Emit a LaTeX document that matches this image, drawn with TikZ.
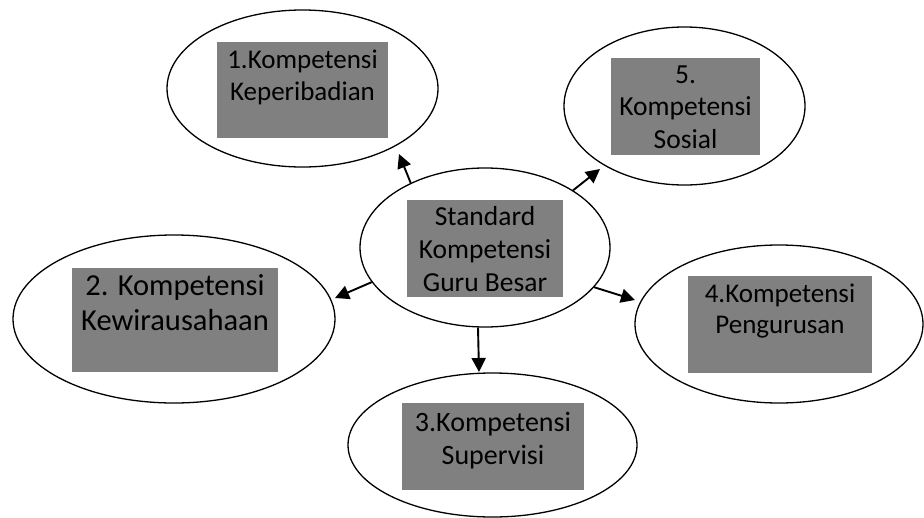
\documentclass[tikz,border=0pt]{standalone}
\usepackage{fontspec}
\setmainfont{Carlito}
\usetikzlibrary{shapes.geometric,arrows.meta}
\newcommand\gbtext[6]{\parbox[c][#2pt][t]{#1pt}{\centering\fontsize{#4pt}{#5pt}\selectfont\rule{0pt}{#3pt}#6}}
\begin{document}
\begin{tikzpicture}[x=1pt,y=1pt,
  ell/.style={draw=black, ellipse, line width=1.3pt, inner sep=0pt, fill=white},
  gbox/.style={fill=gray, inner sep=0pt, text=black},
  arr/.style={line width=1.9pt, -{Triangle[length=14pt,width=14pt]}}]
\useasboundingbox[fill=white] (0,0) rectangle (924,-517);
% ellipses
\node[ell, minimum width=271pt, minimum height=157pt] (e1) at (302.5,-88.5) {};
\node[ell, minimum width=241pt, minimum height=158pt] (e5) at (684.5,-106) {};
\node[ell, minimum width=250pt, minimum height=159pt] (c) at (485,-247.5) {};
\node[ell, minimum width=322pt, minimum height=168pt] (e2) at (174,-319) {};
\node[ell, minimum width=288pt, minimum height=158pt] (e4) at (779,-324) {};
\node[ell, minimum width=289pt, minimum height=144pt] (e3) at (492.5,-445) {};
% grey text boxes
\node[gbox] (b1) at (302.5,-90) {\gbtext{171}{96}{26}{27}{32}{1.Kompetensi\\Keperibadian}};
\node[gbox] (b5) at (685.5,-106.5) {\gbtext{149}{97}{25}{27.5}{32.5}{5.\\Kompetensi\\Sosial}};
\node[gbox] (bc) at (485,-248.5) {\gbtext{156}{97}{25}{27.5}{33}{Standard\\Kompetensi\\Guru Besar}};
\node[gbox] (b2) at (175,-320) {\gbtext{206}{104}{27}{30.5}{35}{2. Kompetensi\\Kewirausahaan}};
\node[gbox] (b4) at (780,-324.5) {\gbtext{184}{97}{26}{27}{31.5}{4.Kompetensi\\Pengurusan}};
\node[gbox] (b3) at (493,-446.5) {\gbtext{182}{87}{28}{28}{33}{3.Kompetensi\\Supervisi}};
% arrow tips
\coordinate (t1) at (399,-154);
\coordinate (t5) at (600,-169);
\coordinate (t2) at (335,-298);
\coordinate (t4) at (635,-300);
\coordinate (t3) at (479,-372);
% arrows
\draw[arr] (c.139.4) -- (t1);
\draw[arr] (c.33.1) -- (t5);
\draw[arr] (c.197.9) -- (t2);
\draw[arr] (c.340) -- (t4);
\draw[arr] (c.265.7) -- (t3);
\end{tikzpicture}
\end{document}
